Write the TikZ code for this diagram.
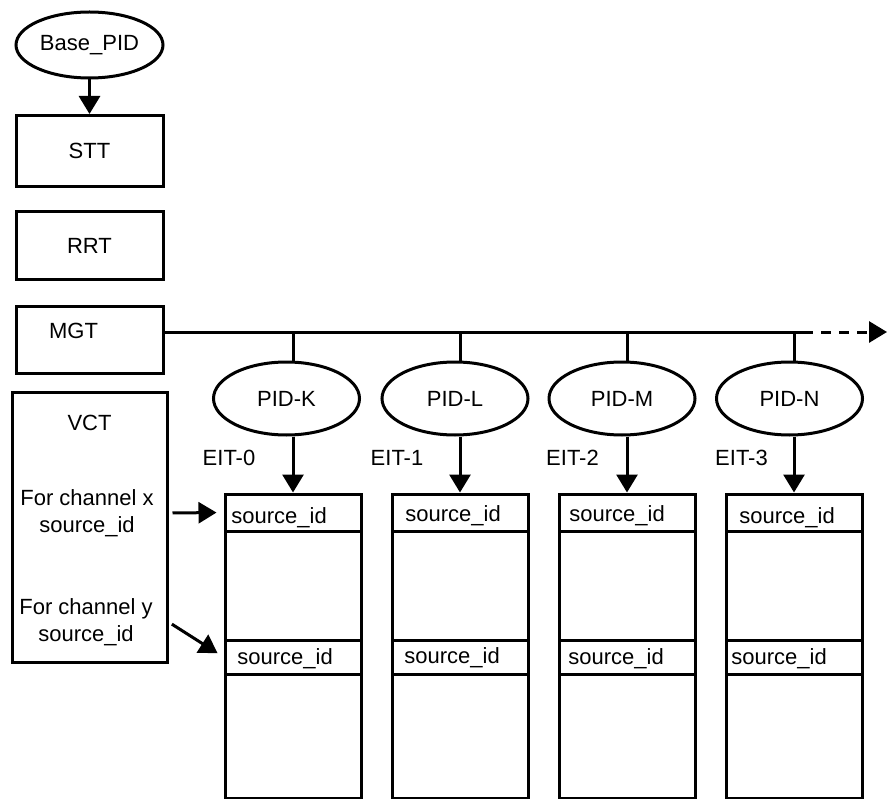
\documentclass[tikz,border=0pt]{standalone}
\usepackage{fontspec}
\setmainfont{Liberation Sans}
\usepackage{tikz}
\usetikzlibrary{arrows.meta, positioning, shapes.geometric}
\tikzset{>={Triangle[width=21pt,length=18pt]}}

\begin{document}
\begin{tikzpicture}[x=1pt, y=-1pt, line width=3pt,
	every node/.style = {font=\fontsize{22}{27}\selectfont, inner sep=0pt},
	tbl/.style = {draw, rectangle, minimum width=147pt},
	pid/.style = {draw, ellipse, minimum width=146pt, minimum height=73pt},
	col/.style = {draw, rectangle, minimum width=136pt, minimum height=304pt},
	row/.style = {draw, rectangle, minimum width=136pt},
	src/.style = {anchor=base west}]
			\useasboundingbox (0,0) rectangle (888,799);
			% left column of tables
			\node (base) [pid, minimum width=147pt, minimum height=66pt] at (89.5,45) {Base\_PID};
			\node (stt) [tbl, minimum height=71pt, below = 34.5pt of base] {STT};
			\node (rrt) [tbl, minimum height=68pt, below = 22.5pt of stt] {RRT};
			\node (mgt) [tbl, minimum height=67pt, below = 23.5pt of rrt,
				label = {[xshift=-16pt, yshift=9pt]center:MGT}] {};
			\node (vct) [tbl, minimum width=155pt, minimum height=270pt, below = 15.5pt of mgt] {};
			\node (vctname) [below = 23.5pt of vct.north] {VCT};
			\node (vctx) [align=center] at (87,513) {For channel x\\source\_id};
			\node (vcty) [align=center] at (86,622) {For channel y\\source\_id};
			% EIT tables
			\node (t0) [col] at (293,646) {};
			\node (t1) [col, right = 28pt of t0] {};
			\node (t2) [col, right = 28pt of t1] {};
			\node (t3) [col, right = 28pt of t2] {};
			\node (r0a) [row, minimum height=37pt, below = 0pt of t0.north] {};
			\node (r1a) [row, minimum height=37pt, below = 0pt of t1.north] {};
			\node (r2a) [row, minimum height=37pt, below = 0pt of t2.north] {};
			\node (r3a) [row, minimum height=37pt, below = 0pt of t3.north] {};
			\node (r0b) [row, minimum height=34pt, below = 106pt of r0a] {};
			\node (r1b) [row, minimum height=34pt, below = 106pt of r1a] {};
			\node (r2b) [row, minimum height=34pt, below = 106pt of r2a] {};
			\node (r3b) [row, minimum height=34pt, below = 106pt of r3a] {};
			\node (s0a) [src] at ([xshift=6.4pt, yshift=-10.5pt]r0a.west) {source\_id};
			\node (s1a) [src] at ([xshift=13.4pt, yshift=-8.5pt]r1a.west) {source\_id};
			\node (s2a) [src] at ([xshift=10.4pt, yshift=-8.5pt]r2a.west) {source\_id};
			\node (s3a) [src] at ([xshift=13.4pt, yshift=-10.5pt]r3a.west) {source\_id};
			\node (s0b) [src] at ([xshift=12.4pt, yshift=-7pt]r0b.west) {source\_id};
			\node (s1b) [src] at ([xshift=12.4pt, yshift=-6pt]r1b.west) {source\_id};
			\node (s2b) [src] at ([xshift=9.4pt, yshift=-7pt]r2b.west) {source\_id};
			\node (s3b) [src] at ([xshift=5.4pt, yshift=-7pt]r3b.west) {source\_id};
			% PIDs
			\node (pk) [pid, above = 56pt of t0, xshift=-6.5pt] {PID-K};
			\node (pl) [pid, above = 56pt of t1, xshift=-5pt] {PID-L};
			\node (pm) [pid, above = 56pt of t2, xshift=-5pt] {PID-M};
			\node (pn) [pid, above = 56pt of t3, xshift=-4.5pt] {PID-N};
			\node (e0) at (229,457.5) {EIT-0};
			\node (e1) at (397,457.5) {EIT-1};
			\node (e2) at (572.5,457.5) {EIT-2};
			\node (e3) at (741.5,457.5) {EIT-3};
			\coordinate (bus) at (803,332);
			\coordinate (busend) at (887,332);
			% connectors
			\draw[->] (base) -- (stt);
			\draw (mgt.east |- bus) -- (bus);
			\draw[->, dash pattern=on 10pt off 8pt] (bus) -- (busend);
			\draw (bus -| t0.north) -- (pk.north -| t0.north);
			\draw (bus -| t1.north) -- (pl.north -| t1.north);
			\draw (bus -| t2.north) -- (pm.north -| t2.north);
			\draw (bus -| t3.north) -- (pn.north -| t3.north);
			\draw[->] (pk.south -| t0.north) -- (t0.north);
			\draw[->] (pl.south -| t1.north) -- (t1.north);
			\draw[->] (pm.south -| t2.north) -- (t2.north);
			\draw[->] (pn.south -| t3.north) -- (t3.north);
			\draw[->, shorten <=4pt, shorten >=7pt] (vct.east |- vctx) -- (t0.west |- r0a);
			\draw[->, shorten <=4pt, shorten >=7pt] (vct.east |- vcty) -- (r0b.west);
\end{tikzpicture}
\end{document}
